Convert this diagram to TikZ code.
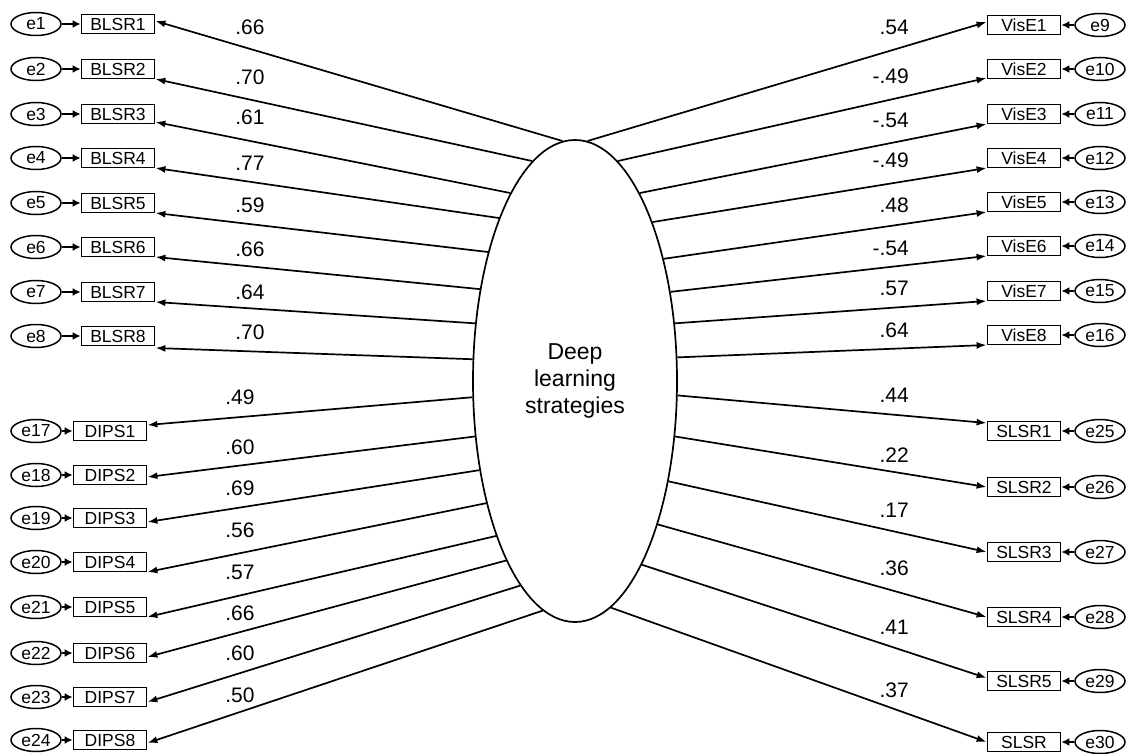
\documentclass[tikz,border=0pt]{standalone}
\usepackage{fontspec}
\setmainfont{Liberation Sans}
\usetikzlibrary{shapes.geometric,arrows.meta,calc}
\begin{document}
\begin{tikzpicture}[x=1pt,y=-1pt,
  obs/.style={draw, line width=1.8pt, minimum width=73pt, minimum height=19pt, inner sep=0pt, font=\fontsize{17.5}{20}\selectfont},
  err/.style={draw, ellipse, line width=1.5pt, minimum width=50pt, minimum height=23pt, inner sep=0pt, font=\fontsize{17.5}{20}\selectfont},
  lat/.style={draw, ellipse, line width=1.7pt, minimum width=204pt, minimum height=482pt, inner sep=0pt, align=center, font=\fontsize{23}{27}\selectfont},
  load/.style={line width=1.7pt, -{Latex[length=10pt,width=7pt]}},
  eg/.style={line width=1.7pt, -{Latex[length=8pt,width=8pt]}},
  ld/.style={font=\fontsize{21}{24}\selectfont, inner sep=0pt}
]
\path[use as bounding box] (0,0) rectangle (1127,754);
\node[lat] (L) at (575,381) {Deep\\learning\\strategies};
% BLSR
\foreach \i/\y/\a/\d/\lab/\ly in {1/24/93/-3/.66/27, 2/69/101.5/10/.70/77, 3/114/109/8/.61/117, 4/158/115.7/10/.77/163, 5/203/124.5/10/.59/205, 6/247/136.8/10/.66/249, 7/292/150.4/10/.64/292, 8/336/168.6/12/.70/332}{
  \node[err] (e\i) at (36,\y) {e\i};
  \node[obs] (BLSR\i) at (118,\y) {BLSR\i};
  \draw[eg] (e\i) -- (BLSR\i);
  \draw[load] (L.\a) -- ($(BLSR\i.east)+(0,\d)$);
  \node[ld] (lbB\i) at (250,\ly) {\lab};
}
% DIPS
\foreach \i/\e/\y/\a/\d/\lab/\ly in {1/17/431/189.3/-6/.49/397, 2/18/475/209.2/2/.60/447, 3/19/518/223.1/4/.69/488, 4/20/562/234.2/10/.56/530, 5/21/607/243.1/10/.57/572, 6/22/653/249.5/4/.66/613, 7/23/697/255.8/5/.60/653, 8/24/740/262.7/3/.50/695}{
  \node[err] (e\e) at (36,\y) {e\e};
  \node[obs] (DIPS\i) at (110,\y) {DIPS\i};
  \draw[eg] (e\e) -- (DIPS\i);
  \draw[load] (L.\a) -- ($(DIPS\i.east)+(0,\d)$);
  \node[ld] (lbD\i) at (240,\ly) {\lab};
}
% VisE
\foreach \i/\e/\y/\a/\d/\lab/\ly in {1/9/25/87.1/-3/.54/27, 2/10/69/79.9/9/-.49/76, 3/11/114/71.7/10/-.54/120, 4/12/158/64.3/10/-.49/160, 5/13/202/54.0/10/.48/205, 6/14/246/43.8/10/-.54/248, 7/15/291/30.5/10/.57/288, 8/16/335/13.2/10/.64/330}{
  \node[err] (e\e) at (1100,\y) {e\e};
  \node[obs] (VisE\i) at (1024,\y) {VisE\i};
  \draw[eg] (e\e) -- (VisE\i);
  \draw[load] (L.\a) -- ($(VisE\i.west)+(0,\d)$);
  \node[ld, anchor=east] (lbV\i) at (909,\ly) {\lab};
}
% SLSR
\foreach \i/\e/\t/\y/\a/\d/\lab/\ly in {1/25/SLSR1/431/-8.4/-8/.44/395, 2/26/SLSR2/487/-29.7/0/.22/455, 3/27/SLSR3/552/-47.1/0/.17/510, 4/28/SLSR4/617/-60.1/0/.36/568, 5/29/SLSR5/681/-70.0/-3/.41/627, 6/30/SLSR/742/-81.2/0/.37/690}{
  \node[err] (e\e) at (1100,\y) {e\e};
  \node[obs] (SLSR\i) at (1024,\y) {\t};
  \draw[eg] (e\e) -- (SLSR\i);
  \draw[load] (L.\a) -- ($(SLSR\i.west)+(0,\d)$);
  \node[ld, anchor=east] (lbS\i) at (909,\ly) {\lab};
}
\end{tikzpicture}
\end{document}
